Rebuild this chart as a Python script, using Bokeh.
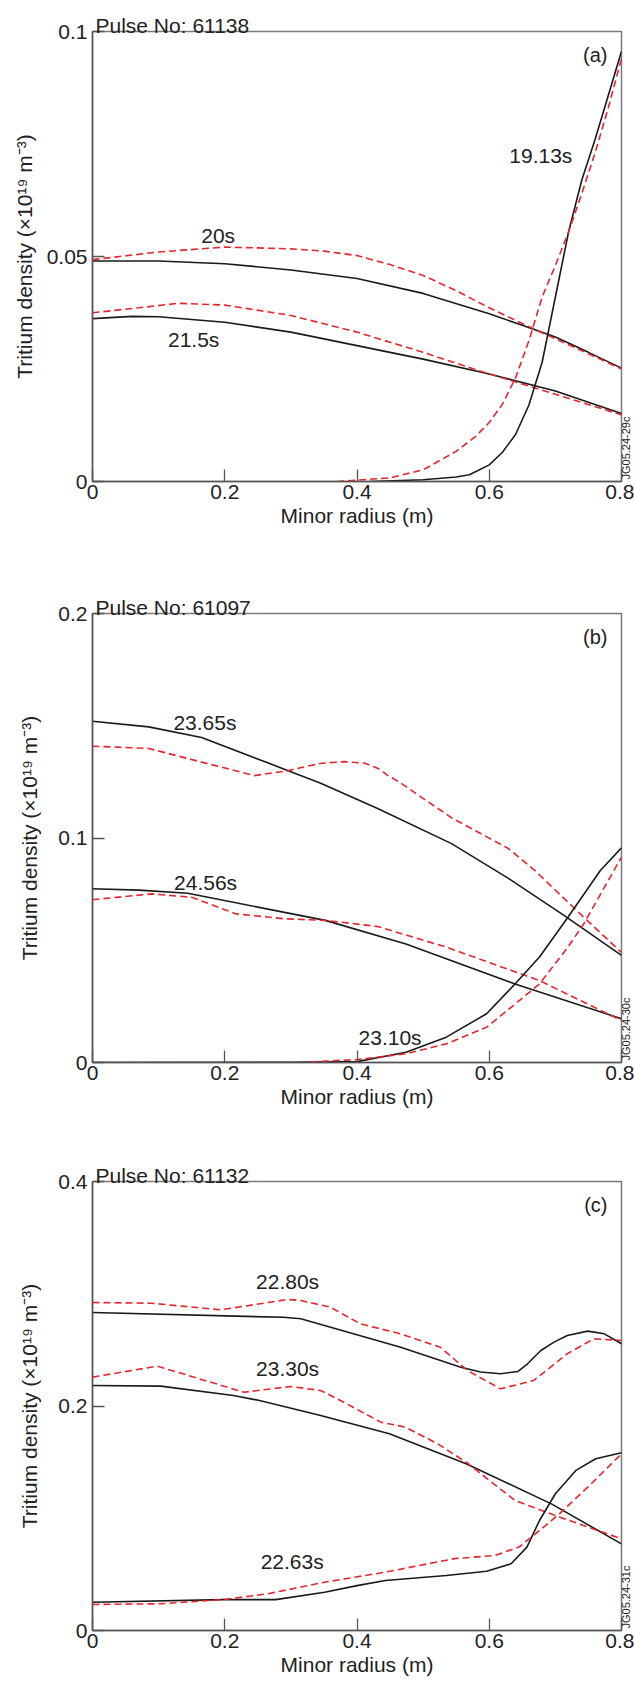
import math
from bokeh.plotting import figure
from bokeh.layouts import column
from bokeh.models import Range1d, FixedTicker, Label
from bokeh.embed import file_html
from bokeh.resources import INLINE

# ---------------- data ----------------
# Panel (a) Pulse No: 61138
a_x_black_20 = [0, 0.1, 0.2, 0.3, 0.4, 0.5, 0.6, 0.65, 0.7, 0.75, 0.8]
a_y_black_20 = [0.0490, 0.0490, 0.0484, 0.0470, 0.0451, 0.0418, 0.0373, 0.0347, 0.0321, 0.0287, 0.0252]
a_x_red_20 = [0, 0.1, 0.2, 0.3, 0.35, 0.4, 0.45, 0.5, 0.55, 0.6, 0.65, 0.7, 0.75, 0.8]
a_y_red_20 = [0.0493, 0.0510, 0.0521, 0.0517, 0.0512, 0.0502, 0.0482, 0.0458, 0.0424, 0.0386, 0.0351, 0.0317, 0.0284, 0.0250]
a_x_black_215 = [0, 0.06, 0.1, 0.2, 0.3, 0.4, 0.5, 0.6, 0.7, 0.8]
a_y_black_215 = [0.0362, 0.0367, 0.0366, 0.0354, 0.0332, 0.0302, 0.0272, 0.0239, 0.0201, 0.0151]
a_x_red_215 = [0, 0.07, 0.13, 0.2, 0.3, 0.4, 0.5, 0.6, 0.7, 0.8]
a_y_red_215 = [0.0375, 0.0386, 0.0396, 0.0392, 0.0369, 0.0332, 0.0287, 0.0239, 0.0194, 0.0148]
a_x_black_1913 = [0.42, 0.5, 0.55, 0.57, 0.6, 0.62, 0.64, 0.66, 0.68, 0.70, 0.72, 0.74, 0.76, 0.78, 0.8]
a_y_black_1913 = [0.0, 0.0004, 0.0010, 0.0015, 0.0037, 0.0065, 0.0105, 0.0170, 0.0265, 0.0410, 0.0555, 0.0670, 0.0760, 0.0858, 0.0956]
a_x_red_1913 = [0.37, 0.4, 0.45, 0.5, 0.55, 0.58, 0.6, 0.62, 0.64, 0.66, 0.68, 0.70, 0.72, 0.74, 0.76, 0.78, 0.8]
a_y_red_1913 = [0.0, 0.0003, 0.0008, 0.0026, 0.0067, 0.0101, 0.0131, 0.0172, 0.0231, 0.0313, 0.0410, 0.0480, 0.0555, 0.0640, 0.0730, 0.0830, 0.0940]

# Panel (b) Pulse No: 61097
b_x_black_2365 = [0, 0.085, 0.165, 0.296, 0.346, 0.432, 0.543, 0.629, 0.713, 0.8]
b_y_black_2365 = [0.152, 0.1495, 0.1448, 0.130, 0.1243, 0.113, 0.0975, 0.082, 0.0655, 0.0477]
b_x_red_2365 = [0, 0.085, 0.165, 0.245, 0.296, 0.316, 0.346, 0.381, 0.412, 0.432, 0.447, 0.467, 0.543, 0.629, 0.669, 0.743, 0.8]
b_y_red_2365 = [0.1409, 0.1399, 0.1338, 0.1278, 0.130, 0.1314, 0.1333, 0.134, 0.1333, 0.131, 0.1278, 0.1243, 0.109, 0.0953, 0.0855, 0.0647, 0.049]
b_x_black_2456 = [0, 0.07, 0.144, 0.352, 0.474, 0.639, 0.8]
b_y_black_2456 = [0.0774, 0.0768, 0.0754, 0.0633, 0.0528, 0.035, 0.0195]
b_x_red_2456 = [0, 0.089, 0.15, 0.217, 0.291, 0.352, 0.431, 0.535, 0.676, 0.8]
b_y_red_2456 = [0.0725, 0.0751, 0.0736, 0.0662, 0.0640, 0.0633, 0.0606, 0.0514, 0.0365, 0.0187]
b_x_black_2310 = [0, 0.3, 0.4, 0.474, 0.535, 0.596, 0.639, 0.676, 0.719, 0.768, 0.8]
b_y_black_2310 = [0.0, 0.0001, 0.0004, 0.0046, 0.0113, 0.0217, 0.035, 0.047, 0.0647, 0.0855, 0.0956]
b_x_red_2310 = [0.33, 0.4, 0.474, 0.535, 0.596, 0.639, 0.676, 0.719, 0.743, 0.8]
b_y_red_2310 = [0.0003, 0.0013, 0.0039, 0.0083, 0.0157, 0.026, 0.035, 0.0514, 0.0618, 0.0915]

# Panel (c) Pulse No: 61132
c_x_black_2280 = [0, 0.289, 0.315, 0.466, 0.557, 0.587, 0.617, 0.643, 0.658, 0.678, 0.698, 0.718, 0.749, 0.774, 0.8]
c_y_black_2280 = [0.2833, 0.279, 0.2777, 0.2524, 0.2346, 0.2303, 0.2287, 0.2307, 0.2376, 0.2494, 0.2569, 0.2628, 0.2667, 0.2643, 0.2554]
c_x_red_2280 = [0, 0.088, 0.194, 0.295, 0.315, 0.36, 0.405, 0.466, 0.526, 0.567, 0.617, 0.667, 0.718, 0.758, 0.8]
c_y_red_2280 = [0.2922, 0.2916, 0.2857, 0.2949, 0.294, 0.288, 0.2732, 0.2643, 0.2524, 0.2316, 0.2153, 0.2227, 0.2465, 0.2598, 0.2584]
c_x_black_2330 = [0, 0.103, 0.213, 0.2526, 0.345, 0.449, 0.565, 0.694, 0.8]
c_y_black_2330 = [0.2183, 0.2177, 0.2094, 0.2049, 0.1915, 0.1752, 0.1485, 0.1128, 0.0772]
c_x_red_2330 = [0, 0.098, 0.229, 0.30, 0.345, 0.375, 0.436, 0.473, 0.522, 0.565, 0.639, 0.700, 0.8]
c_y_red_2330 = [0.2257, 0.2355, 0.2123, 0.2174, 0.2138, 0.2049, 0.1856, 0.1812, 0.1663, 0.15, 0.1158, 0.1024, 0.0817]
c_x_black_2263 = [0, 0.197, 0.277, 0.351, 0.4, 0.443, 0.535, 0.596, 0.633, 0.657, 0.676, 0.7, 0.731, 0.761, 0.8]
c_y_black_2263 = [0.0252, 0.0275, 0.0275, 0.0341, 0.04, 0.0445, 0.049, 0.0528, 0.0594, 0.0743, 0.098, 0.1218, 0.1426, 0.153, 0.1583]
c_x_red_2263 = [0, 0.105, 0.197, 0.265, 0.351, 0.443, 0.547, 0.608, 0.645, 0.676, 0.706, 0.749, 0.8]
c_y_red_2263 = [0.0232, 0.0238, 0.0275, 0.0327, 0.043, 0.052, 0.064, 0.0668, 0.0743, 0.089, 0.1039, 0.1277, 0.1574]

x_ticks = [0, 0.2, 0.4, 0.6, 0.8]
x_tick_labels = ["0", "0.2", "0.4", "0.6", "0.8"]
a_y_ticks = [0, 0.05, 0.1]
a_y_tick_labels = ["0", "0.05", "0.1"]
b_y_ticks = [0, 0.1, 0.2]
b_y_tick_labels = ["0", "0.1", "0.2"]
c_y_ticks = [0, 0.2, 0.4]
c_y_tick_labels = ["0", "0.2", "0.4"]

FONT = "Liberation Sans"
BLACK = "#1a1a1a"
RED = "#e8242c"
TXT = "#222222"


def make_panel(ymax, yticks, ylabels, pulse, tag, code, curves, texts,
               left, right, top, bottom, fh, label_standoff):
    p = figure(frame_width=529, frame_height=fh, output_backend="svg",
               toolbar_location=None, x_range=Range1d(0, 0.8),
               y_range=Range1d(0, ymax),
               min_border_left=left, min_border_right=right,
               min_border_top=top, min_border_bottom=bottom)
    p.background_fill_color = "white"
    p.border_fill_color = "white"
    p.grid.visible = False
    p.outline_line_color = "#7a7a7a"
    p.outline_line_width = 1.5

    p.xaxis.ticker = FixedTicker(ticks=x_ticks)
    p.xaxis.major_label_overrides = {t: l for t, l in zip(x_ticks, x_tick_labels)}
    p.yaxis.ticker = FixedTicker(ticks=yticks)
    p.yaxis.major_label_overrides = {t: l for t, l in zip(yticks, ylabels)}
    for ax in (p.xaxis[0], p.yaxis[0]):
        ax.major_tick_in = 12
        ax.major_tick_out = 0
        ax.minor_tick_in = 0
        ax.minor_tick_out = 0
        ax.axis_line_color = "#555555"
        ax.axis_line_width = 1.5
        ax.major_tick_line_color = "#555555"
        ax.major_tick_line_width = 1.3
        ax.major_label_text_font = FONT
        ax.major_label_text_font_size = "21px"
        ax.major_label_text_color = TXT
        ax.axis_label_text_font = FONT
        ax.axis_label_text_font_size = "21px"
        ax.axis_label_text_font_style = "normal"
        ax.axis_label_text_color = TXT
    p.xaxis.axis_label = "Minor radius (m)"
    p.xaxis.major_label_standoff = 3
    p.xaxis.axis_label_standoff = 2
    p.yaxis.axis_label = "Tritium density (×10¹⁹ m⁻³)"
    p.yaxis.major_label_standoff = 5
    p.yaxis.axis_label_standoff = label_standoff

    for xs, ys, kind in curves:
        if kind == "solid":
            p.line(xs, ys, line_color=BLACK, line_width=1.6)
        else:
            p.line(xs, ys, line_color=RED, line_width=1.6, line_dash="7 4")

    for tx, ty, t in texts:
        p.add_layout(Label(x=tx, y=ty, text=t, text_font=FONT,
                           text_font_size="21px", text_color=TXT,
                           text_align="center", text_baseline="middle"))

    # Pulse number, drawn in the panel above the frame
    p.add_layout(Label(x=3, y=6, x_units="screen", y_units="screen", text=pulse,
                       text_font=FONT, text_font_size="21px", text_color=TXT,
                       text_align="left", text_baseline="alphabetic"), "above")
    p.add_layout(Label(x=0.8, y=ymax, text=tag, x_offset=-14, y_offset=-23,
                       text_font=FONT, text_font_size="20px", text_color=TXT,
                       text_align="right", text_baseline="middle"))
    # figure code, drawn in the panel right of the frame
    p.add_layout(Label(x=4, y=2, x_units="screen", y_units="screen", text=code,
                       angle=math.pi / 2, text_font=FONT,
                       text_font_size="11px", text_color=TXT,
                       text_align="left", text_baseline="middle"), "right")
    return p


pa = make_panel(0.1, a_y_ticks, a_y_tick_labels, "Pulse No: 61138", "(a)",
                "JG05.24-29c",
                [(a_x_black_20, a_y_black_20, "solid"),
                 (a_x_red_20, a_y_red_20, "dash"),
                 (a_x_black_215, a_y_black_215, "solid"),
                 (a_x_red_215, a_y_red_215, "dash"),
                 (a_x_black_1913, a_y_black_1913, "solid"),
                 (a_x_red_1913, a_y_red_1913, "dash")],
                [(0.19, 0.0547, "20s"), (0.153, 0.0316, "21.5s"),
                 (0.678, 0.0724, "19.13s")],
                left=87, right=18, top=31, bottom=101, fh=450, label_standoff=8)

pb = make_panel(0.2, b_y_ticks, b_y_tick_labels, "Pulse No: 61097", "(b)",
                "JG05.24-30c",
                [(b_x_black_2365, b_y_black_2365, "solid"),
                 (b_x_red_2365, b_y_red_2365, "dash"),
                 (b_x_black_2456, b_y_black_2456, "solid"),
                 (b_x_red_2456, b_y_red_2456, "dash"),
                 (b_x_black_2310, b_y_black_2310, "solid"),
                 (b_x_red_2310, b_y_red_2310, "dash")],
                [(0.17, 0.1514, "23.65s"), (0.171, 0.0803, "24.56s"),
                 (0.45, 0.0113, "23.10s")],
                left=91, right=14, top=31, bottom=88, fh=449, label_standoff=14)

pc = make_panel(0.4, c_y_ticks, c_y_tick_labels, "Pulse No: 61132", "(c)",
                "JG05.24-31c",
                [(c_x_black_2280, c_y_black_2280, "solid"),
                 (c_x_red_2280, c_y_red_2280, "dash"),
                 (c_x_black_2330, c_y_black_2330, "solid"),
                 (c_x_red_2330, c_y_red_2330, "dash"),
                 (c_x_black_2263, c_y_black_2263, "solid"),
                 (c_x_red_2263, c_y_red_2263, "dash")],
                [(0.295, 0.311, "22.80s"), (0.295, 0.2334, "23.30s"),
                 (0.302, 0.0617, "22.63s")],
                left=92, right=13, top=31, bottom=55, fh=449, label_standoff=14)

layout = column(pa, pb, pc, spacing=0)
open("out.html", "w").write(file_html(layout, INLINE))
